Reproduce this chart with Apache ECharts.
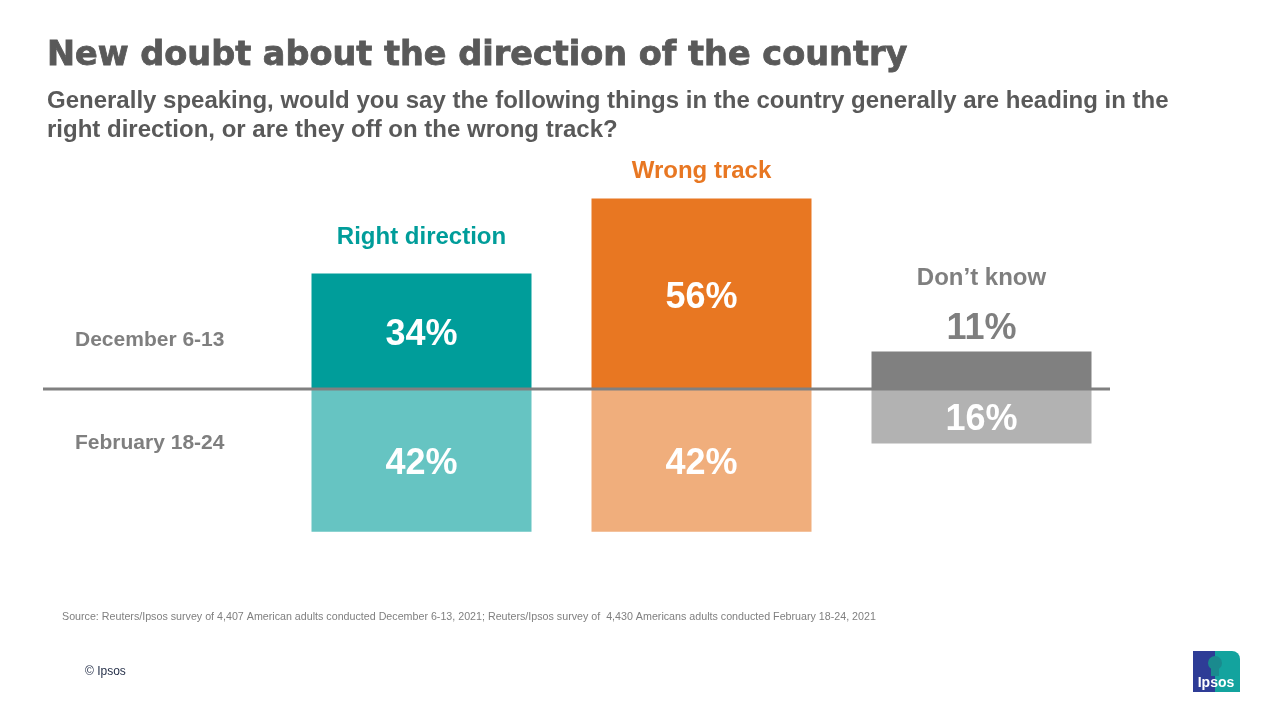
<!DOCTYPE html>
<html>
<head>
<meta charset="utf-8">
<script src="https://cdn.jsdelivr.net/npm/echarts@6/dist/echarts.min.js"></script>
<style>
  html, body { margin: 0; padding: 0; background: #fff; }
  #main { width: 1280px; height: 720px; }
</style>
</head>
<body>
<div id="main"></div>
<script>
// data
const categories = ["Right direction", "Wrong track", "Don\u2019t know"];
const december = [34, 56, 11];
const february = [42, 42, 16];
const periods = ["December 6-13", "February 18-24"];

const headerColors = ["#009d9a", "#e87722", "#7f7f7f"];
const decColors = ["#009d9a", "#e87722", "#808080"];
const febColors = ["#66c4c2", "#f0ae7c", "#b2b2b2"];

const grey = "#595959";
const font = "'Liberation Sans', Arial, sans-serif";

var chart = echarts.init(document.getElementById("main"));

const option = {
  animation: false,
  textStyle: { fontFamily: font },
  title: [
    {
      text: "New doubt about the direction of the country",
      left: 42,
      top: 34,
      textStyle: {
        fontSize: 33.5, fontWeight: "bold", color: grey,
        fontFamily: "'DejaVu Sans', sans-serif",
        textBorderColor: grey, textBorderWidth: 0.8,
      },
    },
    {
      text: "Generally speaking, would you say the following things in the country generally are heading in the\nright direction, or are they off on the wrong track?",
      left: 42,
      top: 82,
      textStyle: { fontSize: 24, fontWeight: "bold", color: grey, lineHeight: 29, fontFamily: font },
    },
  ],
  grid: { left: 281.5, right: 158.5, top: 185, bottom: 127 },
  xAxis: {
    type: "category",
    data: categories,
    axisLine: { show: false },
    axisTick: { show: false },
    axisLabel: { show: false },
  },
  yAxis: {
    type: "value",
    min: -60,
    max: 60,
    show: false,
  },
  series: [
    {
      name: periods[0],
      type: "bar",
      barWidth: 220,
      barGap: "-100%",
      data: december.map((v, i) => ({
        value: v,
        itemStyle: { color: decColors[i] },
        label: i === 2
          ? { position: "top", distance: 5, color: "#7f7f7f" }
          : { position: "inside", color: "#fff", offset: [0, 4] },
      })),
      label: {
        show: true,
        fontSize: 36,
        fontWeight: "bold",
        formatter: (p) => p.value + "%",
      },
      silent: true,
    },
    {
      name: periods[1],
      type: "bar",
      barWidth: 220,
      barGap: "-100%",
      data: february.map((v, i) => ({
        value: -v,
        itemStyle: { color: febColors[i] },
      })),
      label: {
        show: true,
        position: "inside",
        offset: [0, 4],
        color: "#fff",
        fontSize: 36,
        fontWeight: "bold",
        formatter: (p) => Math.abs(p.value) + "%",
      },
      silent: true,
    },
    {
      // invisible twin of december, only carries the column headers
      name: "headers",
      type: "bar",
      barWidth: 220,
      barGap: "-100%",
      data: december.map((v, i) => ({
        value: v,
        label: {
          color: headerColors[i],
          distance: [24, 15, 61][i],
        },
      })),
      itemStyle: { color: "rgba(0,0,0,0)" },
      label: {
        show: true,
        position: "top",
        fontSize: 24,
        fontWeight: "bold",
        formatter: (p) => p.name,
      },
      silent: true,
      z: 1,
    },
  ],
};

chart.setOption(option);

// baseline + row labels, placed on the value axis zero line
const zeroY = chart.convertToPixel({ yAxisIndex: 0 }, 0);
chart.setOption({
  graphic: [
    {
      type: "line",
      shape: { x1: 43, y1: zeroY, x2: 1110, y2: zeroY },
      style: { stroke: "#808080", lineWidth: 3 },
      z: 10,
    },
    {
      type: "text",
      left: 75,
      top: zeroY - 59,
      style: { text: periods[0], fontSize: 21, fontWeight: "bold", fill: "#7f7f7f", fontFamily: font },
    },
    {
      type: "text",
      left: 75,
      top: zeroY + 44,
      style: { text: periods[1], fontSize: 21, fontWeight: "bold", fill: "#7f7f7f", fontFamily: font },
    },
    {
      type: "text",
      left: 62,
      top: 612,
      style: {
        text: "Source: Reuters/Ipsos survey of 4,407 American adults conducted December 6-13, 2021; Reuters/Ipsos survey of  4,430 Americans adults conducted February 18-24, 2021",
        fontSize: 10.7,
        fill: "#7f7f7f",
        fontFamily: font,
      },
    },
    {
      type: "text",
      left: 85,
      top: 666,
      style: { text: "\u00a9 Ipsos", fontSize: 12, fill: "#1f2a44", fontFamily: font },
    },
    // Ipsos logo
    {
      type: "group",
      left: 1193,
      top: 651,
      children: [
        { type: "rect", shape: { x: 0, y: 0, width: 47, height: 41, r: [0, 8, 0, 0] }, style: { fill: "#13a39e" } },
        { type: "rect", shape: { x: 0, y: 0, width: 22, height: 41 }, style: { fill: "#2e3c96" } },
        { type: "circle", shape: { cx: 22, cy: 12, r: 7 }, style: { fill: "#1a8a8e" } },
        { type: "rect", shape: { x: 18, y: 16, width: 8, height: 9 }, style: { fill: "#1a8a8e" } },
        {
          type: "text",
          x: 23,
          y: 32,
          style: { text: "Ipsos", fontSize: 14, fontWeight: "bold", fill: "#fff", align: "center", verticalAlign: "middle", fontFamily: font },
        },
      ],
    },
  ],
});
</script>
</body>
</html>
